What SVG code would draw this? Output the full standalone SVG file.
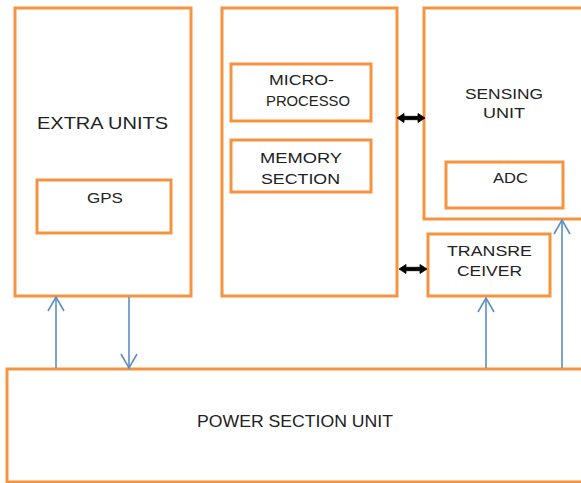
<svg xmlns="http://www.w3.org/2000/svg" width="581" height="483" viewBox="0 0 581 483">
<defs>
<style>
.box{fill:none;stroke:#F5933F;stroke-width:3}
.t{font-family:"Liberation Sans",Arial,sans-serif;font-size:15px;fill:#222}
.tl{font-family:"Liberation Sans",Arial,sans-serif;font-size:16.5px;fill:#222}
.blue{stroke:#5B8FC0;stroke-width:1.6;fill:none}
.blk{fill:#000;stroke:#000;stroke-width:0.8;stroke-linejoin:round}
</style>
<marker id="va" viewBox="-15 -9 16 18" refX="0" refY="0" markerWidth="16" markerHeight="18" markerUnits="userSpaceOnUse" orient="auto">
<path d="M-14,-8 L0,0 L-14,8" fill="none" stroke="#5B8FC0" stroke-width="1.6"/>
</marker>
</defs>
<rect width="581" height="483" fill="#fff"/>

<g id="extra-units">
<rect class="box" x="15" y="8" width="176" height="288"/>
<text class="tl" x="37" y="129" textLength="131" lengthAdjust="spacingAndGlyphs">EXTRA UNITS</text>
</g>
<g id="gps">
<rect class="box" x="37" y="180" width="134" height="53"/>
<text class="t" x="87" y="203" textLength="36" lengthAdjust="spacingAndGlyphs">GPS</text>
</g>

<g id="controller">
<rect class="box" x="222" y="8" width="175" height="288"/>
</g>
<g id="microprocessor">
<rect class="box" x="231" y="64" width="140" height="57"/>
<text class="t" x="269" y="85" textLength="65" lengthAdjust="spacingAndGlyphs">MICRO-</text>
<text class="t" x="266" y="106" textLength="84" lengthAdjust="spacingAndGlyphs">PROCESSO</text>
</g>
<g id="memory">
<rect class="box" x="231" y="140" width="140" height="52"/>
<text class="t" x="260" y="163" textLength="82" lengthAdjust="spacingAndGlyphs">MEMORY</text>
<text class="t" x="261" y="184" textLength="79" lengthAdjust="spacingAndGlyphs">SECTION</text>
</g>

<g id="sensing-unit">
<rect class="box" x="424" y="8" width="170" height="211"/>
<text class="t" x="465" y="99" textLength="78" lengthAdjust="spacingAndGlyphs">SENSING</text>
<text class="t" x="483" y="118" textLength="42" lengthAdjust="spacingAndGlyphs">UNIT</text>
</g>
<g id="adc">
<rect class="box" x="446" y="162" width="117" height="46"/>
<text class="t" x="493" y="183" textLength="35" lengthAdjust="spacingAndGlyphs">ADC</text>
</g>

<g id="transceiver">
<rect class="box" x="428" y="234" width="122" height="62"/>
<text class="t" x="447" y="256" textLength="85" lengthAdjust="spacingAndGlyphs">TRANSRE</text>
<text class="t" x="457" y="276" textLength="65" lengthAdjust="spacingAndGlyphs">CEIVER</text>
</g>

<g id="power-section">
<rect class="box" x="7" y="369" width="590" height="113" stroke-width="3.5"/>
<text class="tl" x="197" y="427" textLength="196" lengthAdjust="spacingAndGlyphs">POWER SECTION UNIT</text>
</g>

<g id="connectors">
<line class="blue" x1="56" y1="368" x2="56" y2="297" marker-end="url(#va)"/>
<line class="blue" x1="129" y1="297" x2="129" y2="368" marker-end="url(#va)"/>
<line class="blue" x1="486" y1="368" x2="486" y2="298" marker-end="url(#va)"/>
<line class="blue" x1="562" y1="368" x2="562" y2="220" marker-end="url(#va)"/>
<polygon class="blk" points="397,118 404,113.5 404,116.3 418,116.3 418,113.5 425,118 418,122.5 418,119.7 404,119.7 404,122.5"/>
<polygon class="blk" points="399,269 406,264.5 406,267.3 420,267.3 420,264.5 427,269 420,273.5 420,270.7 406,270.7 406,273.5"/>
</g>
</svg>
